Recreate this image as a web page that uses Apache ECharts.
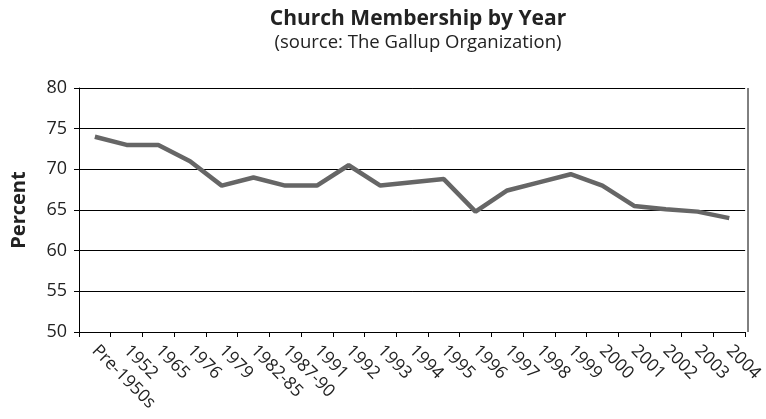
<!DOCTYPE html>
<html>
<head>
<meta charset="utf-8">
<script src="https://cdn.jsdelivr.net/npm/echarts@6/dist/echarts.min.js"></script>
<style>html,body{margin:0;padding:0;background:#fff;}#c{width:766px;height:419px;}</style>
</head>
<body>
<div id="c"></div>
<script>
var categories = ['Pre-1950s','1952','1965','1976','1979','1982-85','1987-90','1991','1992','1993','1994','1995','1996','1997','1998','1999','2000','2001','2002','2003','2004'];
var membership = [74, 73, 73, 71, 68, 69, 68, 68, 70.5, 68, 68.4, 68.8, 64.8, 67.4, 68.4, 69.4, 68, 65.5, 65.1, 64.8, 64];
var yTicks = {min: 50, max: 80, interval: 5};

var chart = echarts.init(document.getElementById('c'));
chart.setOption({
  animation: false,
  title: {
    text: 'Church Membership by Year',
    subtext: '(source: The Gallup Organization)',
    left: 413, top: 4, textAlign: 'center',
    itemGap: 3,
    textStyle: {fontFamily: 'Open Sans', fontWeight: 'bold', fontSize: 21, color: '#222'},
    subtextStyle: {fontFamily: 'Open Sans', fontSize: 18.5, color: '#222'}
  },
  grid: {left: 79, right: 18, top: 88, bottom: 87, containLabel: false},
  xAxis: {
    type: 'category',
    data: categories,
    boundaryGap: true,
    axisLine: {lineStyle: {color: '#000', width: 1}},
    axisTick: {show: true, alignWithLabel: false, length: 5, lineStyle: {color: '#000'}},
    axisLabel: {rotate: -45, fontFamily: 'Open Sans', fontSize: 17.5, color: '#222', interval: 0, margin: 16}
  },
  yAxis: {
    type: 'value',
    min: yTicks.min, max: yTicks.max, interval: yTicks.interval,
    name: 'Percent',
    nameLocation: 'middle',
    nameGap: 50,
    nameTextStyle: {fontFamily: 'Open Sans', fontWeight: 'bold', fontSize: 20, color: '#222'},
    axisLine: {show: true, lineStyle: {color: '#000', width: 1}},
    axisTick: {show: true, length: 5, lineStyle: {color: '#000'}},
    axisLabel: {fontFamily: 'Open Sans', fontSize: 18, color: '#222', margin: 12},
    splitLine: {show: true, lineStyle: {color: '#000', width: 1}}
  },
  series: [{
    type: 'line',
    data: membership,
    symbol: 'none',
    lineStyle: {color: '#666666', width: 4.5},
    itemStyle: {color: '#666666'}
  }]
});
chart.setOption({
  graphic: [{type: 'line', shape: {x1: 748, y1: 88, x2: 748, y2: 332}, style: {stroke: '#000', lineWidth: 1}}]
});
</script>
</body>
</html>
